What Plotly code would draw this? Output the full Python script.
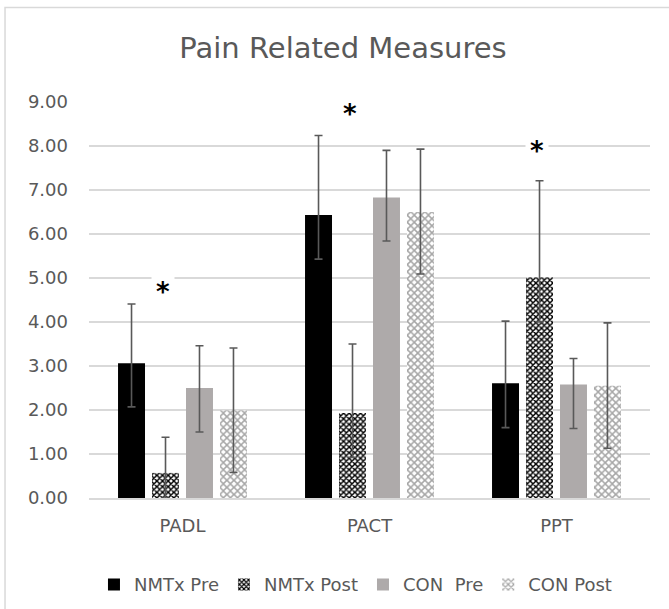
import plotly.graph_objects as go

categories = ["PADL", "PACT", "PPT"]
series_names = ["NMTx Pre", "NMTx Post", "CON\u00a0 Pre", "CON Post"]

nmtx_pre = [3.06, 6.43, 2.61]
nmtx_pre_plus = [1.35, 1.81, 1.41]
nmtx_pre_minus = [0.99, 1.00, 1.01]

nmtx_post = [0.57, 1.93, 5.01]
nmtx_post_plus = [0.81, 1.57, 2.20]
nmtx_post_minus = [0.57, 1.01, 1.01]

con_pre = [2.50, 6.83, 2.58]
con_pre_plus = [0.96, 1.07, 0.59]
con_pre_minus = [1.00, 0.99, 1.00]

con_post = [1.99, 6.50, 2.55]
con_post_plus = [1.42, 1.43, 1.43]
con_post_minus = [1.41, 1.41, 1.42]

y_ticks = [0, 1, 2, 3, 4, 5, 6, 7, 8, 9]
sig_categories = ["PADL", "PACT", "PPT"]
sig_y = [4.69, 8.73, 7.89]

FONT = "DejaVu Sans"
TXT = "#595959"

series = [
    (nmtx_pre, nmtx_pre_plus, nmtx_pre_minus, dict(color="#000000")),
    (nmtx_post, nmtx_post_plus, nmtx_post_minus,
     dict(color="#ffffff", pattern=dict(shape="x", fgcolor="#000000", bgcolor="#ffffff",
                                        size=4, solidity=0.6, fillmode="replace"))),
    (con_pre, con_pre_plus, con_pre_minus, dict(color="#aeaaaa")),
    (con_post, con_post_plus, con_post_minus,
     dict(color="#ffffff", pattern=dict(shape="x", fgcolor="#a6a6a6", bgcolor="#ffffff",
                                        size=5, solidity=0.5, fillmode="replace"))),
]

fig = go.Figure()
for name, (vals, plus, minus, marker) in zip(series_names, series):
    fig.add_trace(go.Bar(
        x=categories, y=vals, name=name,
        marker=dict(line=dict(width=0), **marker),
        error_y=dict(type="data", symmetric=False, array=plus, arrayminus=minus,
                     color="#595959", thickness=1.6, width=4),
    ))

cat_index = {c: i for i, c in enumerate(categories)}
for c, yv in zip(sig_categories, sig_y):
    fig.add_annotation(
        x=cat_index[c] - 0.105, y=yv, xref="x", yref="y",
        text="<b>*</b>", showarrow=False, font=dict(family=FONT, size=26, color="#000000"),
        bgcolor="#ffffff", borderpad=4, yanchor="middle",
    )

fig.add_shape(type="rect", xref="paper", yref="paper",
              x0=-0.1497, x1=1.2, y0=-0.5, y1=1.2388,
              line=dict(color="#d9d9d9", width=1.5), fillcolor="rgba(0,0,0,0)", layer="below")

fig.update_layout(
    width=669, height=609,
    margin=dict(l=89, r=19, t=102, b=111, autoexpand=False),
    paper_bgcolor="#ffffff", plot_bgcolor="#ffffff",
    barmode="group", bargap=0.273, bargroupgap=0.206,
    title=dict(text="Pain Related Measures", x=343 / 669, xanchor="center",
               y=1 - 48 / 609, yanchor="middle",
               font=dict(family=FONT, size=29, color=TXT)),
    font=dict(family=FONT, color=TXT, size=18),
    showlegend=True,
    legend=dict(orientation="h", x=0.475, xanchor="center", y=-0.219, yanchor="middle",
                font=dict(family=FONT, size=18, color=TXT), traceorder="normal",
                itemwidth=30),
    xaxis=dict(type="category", showline=True, linecolor="#d9d9d9", linewidth=2,
               ticks="", tickfont=dict(family=FONT, size=18, color=TXT),
               ticklabelstandoff=10, automargin=False),
    yaxis=dict(range=[0, 9], tickvals=y_ticks, tickformat=".2f",
               showgrid=True, gridcolor="#d9d9d9", gridwidth=1.5,
               zeroline=False, showline=False, ticks="",
               tickfont=dict(family=FONT, size=18, color=TXT),
               ticklabelstandoff=20, automargin=False),
)

fig.write_html("out.html", config={"displayModeBar": False},
               post_script="document.body.style.margin='0';")
